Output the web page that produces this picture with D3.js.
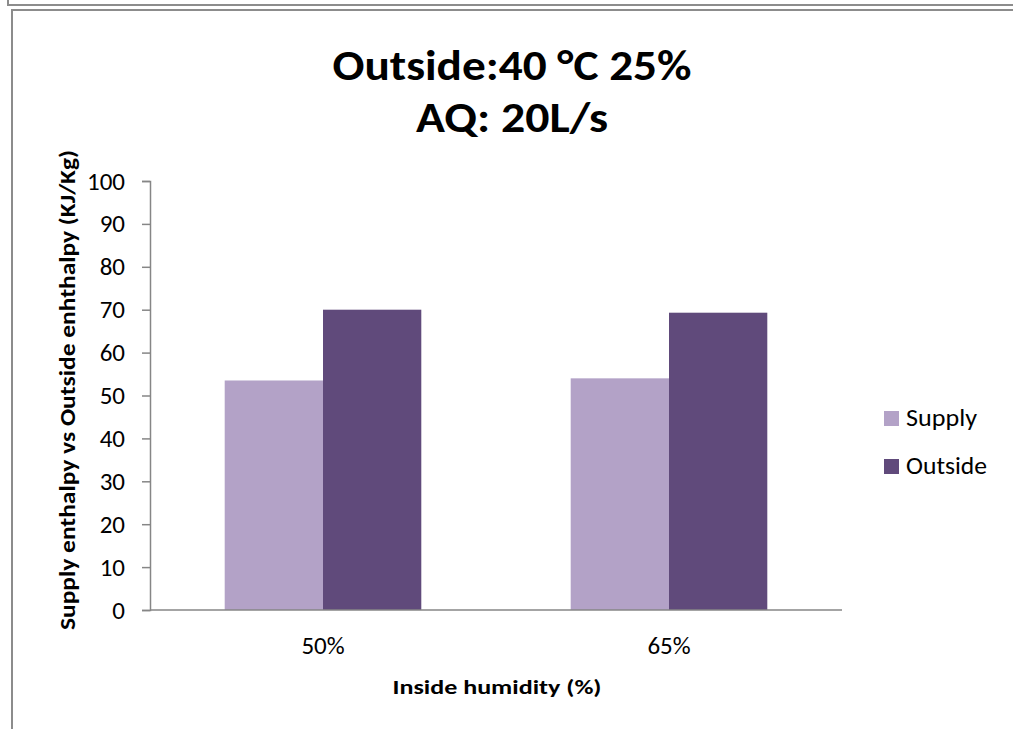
<!DOCTYPE html>
<html>
<head>
<meta charset="utf-8">
<script src="https://cdn.jsdelivr.net/npm/d3@7"></script>
<style>
  body { margin: 0; background: #fff; }
  svg { display: block; }
  text { font-family: Carlito, Calibri, "Liberation Sans", sans-serif; fill: #000; }
</style>
</head>
<body>
<svg id="chart" width="1013" height="729"></svg>
<script>
// Categories, series and values
var categories = ["50%", "65%"];
var seriesNames = ["Supply", "Outside"];
var supplyValues = [53.5, 54.0];
var outsideValues = [70.0, 69.3];
var yTicks = [0, 10, 20, 30, 40, 50, 60, 70, 80, 90, 100];
var seriesColors = ["#b3a2c7", "#604a7b"];

var svg = d3.select("#chart");

// sheet frame lines
svg.append("path")
    .attr("d", "M8,0V5H1013")
    .attr("fill", "none").attr("stroke", "#8c8c8c").attr("stroke-width", 2);
svg.append("path")
    .attr("d", "M12,729V10H1013")
    .attr("fill", "none").attr("stroke", "#8c8c8c").attr("stroke-width", 2);

// plot area
var plotLeft = 150, plotRight = 842, plotTop = 181, plotBottom = 610;

var y = d3.scaleLinear().domain([0, 100]).range([plotBottom, plotTop]);
var x0 = d3.scaleBand().domain(categories).range([plotLeft, plotRight]).padding(0);
var x1 = d3.scaleBand().domain(seriesNames).range([0, x0.bandwidth()])
    .paddingInner(0).paddingOuter(0.76);

var rows = categories.map(function(c, i) {
    return { cat: c, vals: [supplyValues[i], outsideValues[i]] };
});

var groups = svg.append("g").selectAll("g")
    .data(rows)
    .enter().append("g")
    .attr("transform", function(d) { return "translate(" + x0(d.cat) + ",0)"; });

groups.selectAll("rect")
    .data(function(d) { return d.vals.map(function(v, j) { return { name: seriesNames[j], v: v, j: j }; }); })
    .enter().append("rect")
    .attr("x", function(d) { return x1(d.name); })
    .attr("y", function(d) { return y(d.v); })
    .attr("width", x1.bandwidth())
    .attr("height", function(d) { return plotBottom - y(d.v); })
    .attr("fill", function(d) { return seriesColors[d.j]; });

// y axis
var yAxis = svg.append("g")
    .attr("transform", "translate(" + plotLeft + ",0)")
    .call(d3.axisLeft(y).tickValues(yTicks).tickSize(8).tickPadding(17));
yAxis.select(".domain").attr("stroke", "#868686").attr("stroke-width", 1.5);
yAxis.selectAll(".tick line").attr("stroke", "#868686").attr("stroke-width", 1.5);
yAxis.selectAll(".tick text")
    .style("font-family", "Carlito, Calibri, 'Liberation Sans', sans-serif")
    .style("font-size", "25px").attr("fill", "#000");

// x axis
var xAxis = svg.append("g")
    .attr("transform", "translate(0," + plotBottom + ")")
    .call(d3.axisBottom(x0).tickSize(0).tickPadding(26));
xAxis.select(".domain").attr("stroke", "#868686").attr("stroke-width", 1.5)
    .attr("d", "M" + plotLeft + ",0H" + plotRight);
xAxis.selectAll(".tick text")
    .style("font-family", "Carlito, Calibri, 'Liberation Sans', sans-serif")
    .style("font-size", "25px").attr("fill", "#000");

// title
svg.append("text")
    .attr("x", 512).attr("y", 80)
    .attr("text-anchor", "middle")
    .attr("font-weight", "bold").attr("font-size", 42)
    .attr("textLength", 359).attr("lengthAdjust", "spacingAndGlyphs")
    .text("Outside:40 °C 25%");
svg.append("text")
    .attr("x", 512).attr("y", 132)
    .attr("text-anchor", "middle")
    .attr("font-weight", "bold").attr("font-size", 42)
    .attr("textLength", 192).attr("lengthAdjust", "spacingAndGlyphs")
    .text("AQ: 20L/s");

// axis titles
svg.append("text")
    .attr("transform", "translate(75,390) rotate(-90)")
    .attr("text-anchor", "middle")
    .attr("font-weight", "bold").attr("font-size", 22)
    .attr("textLength", 480).attr("lengthAdjust", "spacingAndGlyphs")
    .text("Supply enthalpy vs Outside enhthalpy  (KJ/Kg)");
svg.append("text")
    .attr("x", 497).attr("y", 694)
    .attr("text-anchor", "middle")
    .attr("font-weight", "bold").attr("font-size", 21)
    .attr("textLength", 209).attr("lengthAdjust", "spacingAndGlyphs")
    .text("Inside humidity (%)");

// legend
var legendWidths = [71, 81];
var legend = svg.append("g").selectAll("g")
    .data(seriesNames)
    .enter().append("g")
    .attr("transform", function(d, i) { return "translate(884," + (411 + i * 48) + ")"; });
legend.append("rect")
    .attr("width", 15).attr("height", 15)
    .attr("fill", function(d, i) { return seriesColors[i]; });
legend.append("text")
    .attr("x", 22).attr("y", 15)
    .attr("font-size", 25)
    .attr("textLength", function(d, i) { return legendWidths[i]; })
    .attr("lengthAdjust", "spacingAndGlyphs")
    .text(function(d) { return d; });
</script>
</body>
</html>
